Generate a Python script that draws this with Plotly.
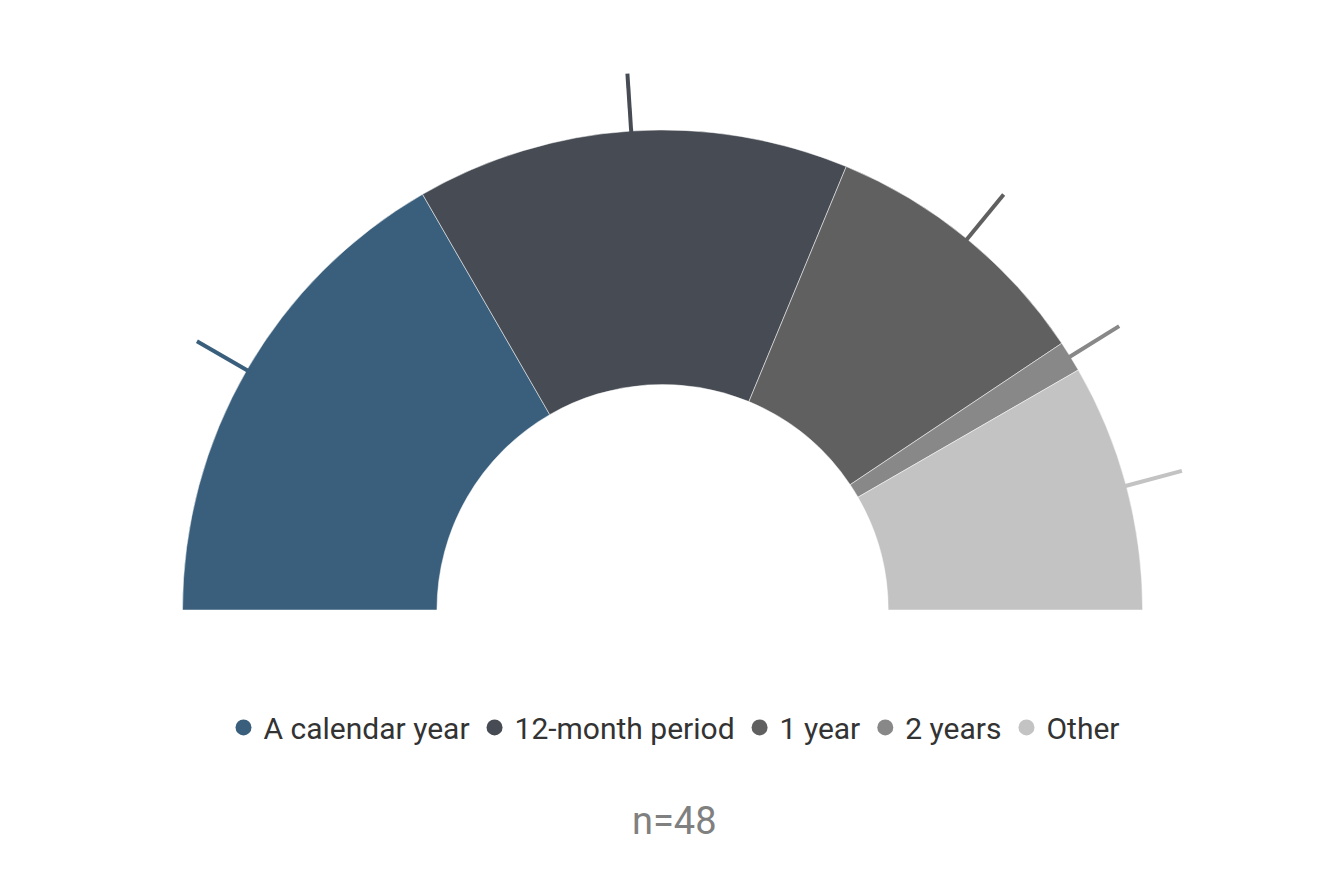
import plotly.graph_objects as go

labels = ['A calendar year', '12-month period', '1 year', '2 years', 'Other']
values = [16, 14, 9, 1, 8]
colors = ['#3a5f7d', '#474c54', '#606060', '#888888', '#c3c3c3']

total = sum(values)
widths = [v * 180 / total for v in values]
mids = []
acc = 0
for w in widths:
    mids.append(acc + w / 2)
    acc += w

fig = go.Figure()

# half donut slices
fig.add_trace(go.Barpolar(theta=mids, width=widths, r=[0.53] * len(values), base=0.47,
                          marker=dict(color=colors, line=dict(color='white', width=0.5)),
                          showlegend=False, hoverinfo='skip'))

# leader lines and labels
for i, v in enumerate(values):
    fig.add_trace(go.Scatterpolar(theta=[mids[i], mids[i]], r=[0.99, 1.12], mode='lines',
                                  line=dict(color=colors[i], width=4), showlegend=False,
                                  hoverinfo='skip', cliponaxis=False))
fig.add_trace(go.Scatterpolar(theta=mids, r=[1.2] * len(values), mode='text',
                              text=[str(v) for v in values],
                              textfont=dict(size=36, color='#333333'),
                              showlegend=False, hoverinfo='skip', cliponaxis=False))

# legend entries with circle markers
for lab, c in zip(labels, colors):
    fig.add_trace(go.Scatterpolar(theta=[None], r=[None], mode='markers', name=lab,
                                  marker=dict(symbol='circle', size=26, color=c)))

fig.update_layout(
    width=1333, height=872,
    margin=dict(l=0, r=0, t=0, b=0),
    paper_bgcolor='white',
    font=dict(family='Roboto', color='#333333'),
    polar=dict(
        domain=dict(x=[0.0743, 0.9078], y=[0.3096, 0.9427]),
        sector=[0, 180],
        bgcolor='white',
        angularaxis=dict(visible=False, direction='clockwise', rotation=180),
        radialaxis=dict(visible=False, range=[0, 1.15]),
    ),
    legend=dict(orientation='h', x=0.5, xanchor='center', y=0.175, yanchor='middle',
                font=dict(size=30, color='#333333'), entrywidth=0, tracegroupgap=40),
    annotations=[dict(text='n=48', x=0.5, y=0.04, xref='paper', yref='paper',
                      showarrow=False, font=dict(size=38, color='#808080'))],
)

fig.write_html("out.html")
